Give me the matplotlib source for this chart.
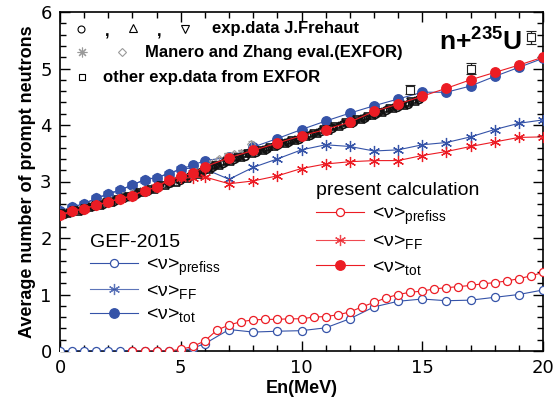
import matplotlib
matplotlib.use('Agg')
import matplotlib.pyplot as plt
from matplotlib.ticker import MultipleLocator

plt.rcParams['font.family'] = ['Liberation Sans', 'DejaVu Sans']
plt.rcParams['mathtext.fontset'] = 'custom'
plt.rcParams['mathtext.rm'] = 'Liberation Sans'
plt.rcParams['mathtext.bf'] = 'Liberation Sans:bold'

BLUE = '#3553a8'
RED = '#ec1c24'
GRAY = '#9a9a9a'

# GEF-2015
gef_x = [0, 0.5, 1, 1.5, 2, 2.5, 3, 3.5, 4, 4.5, 5, 5.5, 6,
         7, 8, 9, 10, 11, 12, 13, 14, 15, 16, 17, 18, 19, 20]
gef_pre = [0, 0, 0, 0, 0, 0, 0, 0, 0, 0, 0, 0.05, 0.13,
           0.38, 0.335, 0.35, 0.36, 0.41, 0.57, 0.78, 0.88, 0.92, 0.89, 0.90, 0.95, 1.00, 1.08]
gef_ff = [2.47, 2.54, 2.61, 2.70, 2.78, 2.85, 2.94, 3.03, 3.07, 3.14, 3.22, 3.24, 3.22,
          3.04, 3.25, 3.40, 3.56, 3.65, 3.62, 3.54, 3.56, 3.65, 3.69, 3.79, 3.92, 4.03, 4.09]
gef_tot = [2.47, 2.54, 2.61, 2.70, 2.78, 2.85, 2.94, 3.03, 3.07, 3.14, 3.22, 3.29, 3.37,
           3.43, 3.61, 3.76, 3.92, 4.07, 4.21, 4.34, 4.46, 4.58, 4.58, 4.69, 4.86, 5.02, 5.18]

# present calculation
pc_pre_x = [3, 3.5, 4, 4.5, 5, 5.5, 6, 6.5, 7, 7.5, 8, 8.5, 9, 9.5, 10, 10.5, 11, 11.5,
            12, 12.5, 13, 13.5, 14, 14.5, 15, 15.5, 16, 16.5, 17, 17.5, 18, 18.5, 19, 19.5, 20]
pc_pre = [0, 0, 0, 0, 0.03, 0.08, 0.18, 0.37, 0.46, 0.52, 0.55, 0.56, 0.56, 0.57, 0.57, 0.60,
          0.61, 0.64, 0.69, 0.78, 0.86, 0.94, 1.00, 1.04, 1.06, 1.10, 1.12, 1.14, 1.16, 1.19,
          1.21, 1.24, 1.28, 1.33, 1.39]
pc_x = [0, 0.5, 1, 1.5, 2, 2.5, 3, 3.5, 4, 4.5, 5, 5.5, 6,
        7, 8, 9, 10, 11, 12, 13, 14, 15, 16, 17, 18, 19, 20]
pc_ff = [2.41, 2.47, 2.52, 2.58, 2.64, 2.69, 2.75, 2.84, 2.90, 3.03, 3.06, 3.07, 3.08,
         2.96, 3.01, 3.10, 3.23, 3.31, 3.35, 3.37, 3.37, 3.46, 3.53, 3.62, 3.70, 3.78, 3.79]
pc_tot = [2.41, 2.47, 2.52, 2.58, 2.64, 2.69, 2.75, 2.84, 2.90, 3.03, 3.09, 3.15, 3.26,
          3.42, 3.55, 3.68, 3.81, 3.92, 4.05, 4.24, 4.37, 4.51, 4.65, 4.80, 4.93, 5.06, 5.20]

# exp. data J.Frehaut
fre_c_x = [0.15, 0.45, 0.9, 1.35, 1.8, 2.25, 2.7, 3.15, 3.6, 4.05, 4.5, 4.95, 5.4, 5.85, 6.3, 6.75,
           7.2, 7.65, 8.1, 8.55, 9.0, 9.45, 9.9, 10.35, 10.8, 11.25, 11.7, 12.15, 12.6, 13.05,
           13.5, 13.95, 14.4, 14.85]
fre_c_y = [2.43, 2.46, 2.50, 2.56, 2.61, 2.66, 2.72, 2.78, 2.83, 2.91, 2.97, 3.03, 3.10, 3.17,
           3.25, 3.33, 3.40, 3.46, 3.52, 3.58, 3.64, 3.70, 3.76, 3.83, 3.89, 3.95, 4.01, 4.06,
           4.13, 4.19, 4.26, 4.32, 4.38, 4.46]
fre_t_x = [0.3, 0.75, 1.2, 1.65, 2.1, 2.55, 3.0, 3.45, 3.9, 4.35, 4.8, 5.25, 5.7, 6.15, 6.6, 7.05,
           7.5, 7.95, 8.4, 8.85, 9.3, 9.75, 10.2, 10.65, 11.1, 11.55, 12.0, 12.45, 12.9, 13.35,
           13.8, 14.25, 14.7]
fre_t_y = [2.45, 2.48, 2.54, 2.59, 2.64, 2.70, 2.75, 2.81, 2.87, 2.93, 3.00, 3.06, 3.14, 3.22,
           3.29, 3.37, 3.43, 3.50, 3.56, 3.62, 3.68, 3.74, 3.80, 3.86, 3.92, 3.98, 4.04, 4.11,
           4.17, 4.23, 4.30, 4.36, 4.43]
fre_d_x = [0.05, 0.6, 1.05, 1.5, 1.95, 2.4, 2.85, 3.3, 3.75, 4.2, 4.65, 5.1, 5.55, 6.0, 6.45, 6.9,
           7.35, 7.8, 8.25, 8.7, 9.15, 9.6, 10.05, 10.5, 10.95, 11.4, 11.85, 12.3, 12.75, 13.2,
           13.65, 14.1, 14.55, 15.0]
fre_d_y = [2.42, 2.47, 2.52, 2.57, 2.62, 2.68, 2.73, 2.79, 2.85, 2.92, 2.98, 3.04, 3.11, 3.19,
           3.27, 3.35, 3.41, 3.48, 3.54, 3.60, 3.66, 3.72, 3.78, 3.84, 3.91, 3.97, 4.03, 4.09,
           4.15, 4.21, 4.28, 4.34, 4.41, 4.48]
fre_err = 0.035

# Manero and Zhang eval. (EXFOR)
man_s_x = [0.3, 0.9, 1.5, 2.1, 2.7, 3.3, 3.9, 4.5, 5.1, 5.7, 6.3, 6.9, 7.5]
man_s_y = [2.46, 2.53, 2.61, 2.68, 2.76, 2.84, 2.91, 2.99, 3.08, 3.18, 3.32, 3.45, 3.50]
man_d_x = [0.6, 1.2, 1.8, 2.4, 3.0, 3.6, 4.2, 4.8, 5.4, 6.0, 6.6, 7.2, 7.9]
man_d_y = [2.48, 2.56, 2.63, 2.71, 2.79, 2.86, 2.94, 3.03, 3.12, 3.24, 3.40, 3.48, 3.66]
man_err = [0.03, 0.03, 0.03, 0.03, 0.03, 0.03, 0.03, 0.03, 0.03, 0.04, 0.04, 0.05, 0.06]

# other exp. data from EXFOR
oth_x = [14.5, 17.0, 19.5]
oth_y = [4.62, 5.00, 5.55]
oth_err = [0.08, 0.10, 0.12]

ast = (6, 2, 0)
MS_TOT = 6.8
MS_PRE = 5.8
MS_FF = 8

fig = plt.figure(figsize=(5.59, 4.01), dpi=100)
ax = fig.add_axes([60 / 559, 1 - 351 / 401, 483 / 559, 339 / 401])

# GEF-2015 (blue)
ax.plot(gef_x, gef_ff, '-', color=BLUE, lw=0.8, marker=ast, ms=MS_FF, mew=0.9, zorder=3)
ax.plot(gef_x, gef_tot, '-', color=BLUE, lw=0.8, marker='o', ms=MS_TOT, zorder=3)
ax.plot(gef_x, gef_pre, '-', color=BLUE, lw=0.8, marker='o', ms=MS_PRE, mfc='white', mew=0.9, zorder=3)

# experimental data
ax.errorbar(man_s_x, man_s_y, yerr=man_err, fmt='none', ecolor=GRAY, elinewidth=0.8, capsize=2, zorder=4)
ax.plot(man_s_x, man_s_y, ls='none', marker=(8, 2, 0), ms=6, mew=0.8, color=GRAY, zorder=4)
ax.errorbar(man_d_x, man_d_y, yerr=man_err, fmt='D', ms=4, mfc='none', mec=GRAY, mew=0.8,
            ecolor=GRAY, elinewidth=0.8, capsize=2, zorder=4)
for xs, ys, mk in [(fre_c_x, fre_c_y, 'o'), (fre_t_x, fre_t_y, '^'), (fre_d_x, fre_d_y, 'v')]:
    ax.errorbar(xs, ys, yerr=fre_err, fmt=mk, ms=5.5, mfc='none', mec='#111111', mew=1.2,
                ecolor='#111111', elinewidth=1.0, capsize=2.4, zorder=4)
ax.errorbar(oth_x, oth_y, yerr=oth_err, fmt='s', ms=5.5, mfc='white', mec='#222222', mew=0.8,
            ecolor='#222222', elinewidth=0.9, capsize=3.5, zorder=4)

# present calculation (red)
ax.plot(pc_x, pc_ff, '-', color=RED, lw=0.8, marker=ast, ms=MS_FF, mew=0.9, zorder=5)
ax.plot(pc_x, pc_tot, '-', color=RED, lw=0.8, marker='o', ms=MS_TOT, zorder=5)
ax.plot(pc_pre_x, pc_pre, '-', color=RED, lw=0.8, marker='o', ms=MS_PRE, mfc='white', mew=0.9, zorder=5)

ax.set_xlim(0, 20)
ax.set_ylim(0, 6)
ax.xaxis.set_major_locator(MultipleLocator(5))
ax.xaxis.set_minor_locator(MultipleLocator(1))
ax.yaxis.set_major_locator(MultipleLocator(1))
ax.yaxis.set_minor_locator(MultipleLocator(0.2))
ax.tick_params(which='both', direction='in', top=True, right=True, width=1.0, labelsize=13, pad=6)
ax.tick_params(which='major', length=7)
ax.tick_params(which='minor', length=4)
for sp in ax.spines.values():
    sp.set_linewidth(1.2)
for lab in ax.get_xticklabels() + ax.get_yticklabels():
    lab.set_family('DejaVu Sans')

ax.set_xlabel('En(MeV)', fontsize=13, fontweight='bold', labelpad=2)
ax.set_ylabel('Average number of prompt neutrons', fontsize=13, fontweight='bold', labelpad=3)

# top-left legend (exp. data)
tkw = dict(transform=ax.transAxes, fontsize=12, fontweight='bold', va='center')
mkw = dict(transform=ax.transAxes, ls='none', clip_on=False)
ax.plot([0.0435], [0.950], marker='o', ms=5, mfc='none', mec='k', mew=0.8, **mkw)
ax.plot([0.151], [0.952], marker='^', ms=5.5, mfc='none', mec='k', mew=0.8, **mkw)
ax.plot([0.259], [0.950], marker='v', ms=5.5, mfc='none', mec='k', mew=0.8, **mkw)
ax.text(0.093, 0.940, ',', **tkw)
ax.text(0.201, 0.940, ',', **tkw)
ax.text(0.315, 0.950, 'exp.data J.Frehaut', **tkw)
ax.plot([0.0455], [0.882], marker=(8, 2, 0), ms=7, mec=GRAY, mew=0.8, **mkw)
ax.plot([0.128], [0.882], marker='D', ms=4.5, mfc='none', mec=GRAY, mew=0.8, **mkw)
ax.text(0.176, 0.882, 'Manero and Zhang eval.(EXFOR)', **tkw)
ax.plot([0.0455], [0.808], marker='s', ms=5, mfc='none', mec='k', mew=0.8, **mkw)
ax.text(0.089, 0.808, 'other exp.data from EXFOR', **tkw)

ax.text(0.785, 0.888, r'n+$^{\mathbf{235}}$U', transform=ax.transAxes, fontsize=19,
        fontweight='bold', va='baseline')

# model legends
def model_legend(color, title, anchor, spacing):
    hs = [plt.Line2D([], [], color=color, lw=0.8, marker='o', ms=MS_PRE, mfc='white', mew=0.9),
          plt.Line2D([], [], color=color, lw=0.8, marker=ast, ms=MS_FF, mew=0.9, alpha=0.8),
          plt.Line2D([], [], color=color, lw=0.8, marker='o', ms=MS_TOT)]
    labels = ['<ν>$_{\\mathregular{prefiss}}$', '<ν>$_{\\mathregular{FF}}$', '<ν>$_{\\mathregular{tot}}$']
    leg = ax.legend(hs, labels, loc='upper left', bbox_to_anchor=anchor, frameon=False,
                    fontsize=14, title=title, title_fontsize=14, alignment='left',
                    numpoints=1, handlelength=2.45, handletextpad=0.45, labelspacing=spacing,
                    borderpad=0, borderaxespad=0)
    return leg

leg1 = model_legend(BLUE, 'GEF-2015', (0.062, 0.345), 0.25)
ax.add_artist(leg1)
model_legend(RED, 'present calculation', (0.53, 0.498), 0.32)

fig.savefig('out.png', dpi=100)
